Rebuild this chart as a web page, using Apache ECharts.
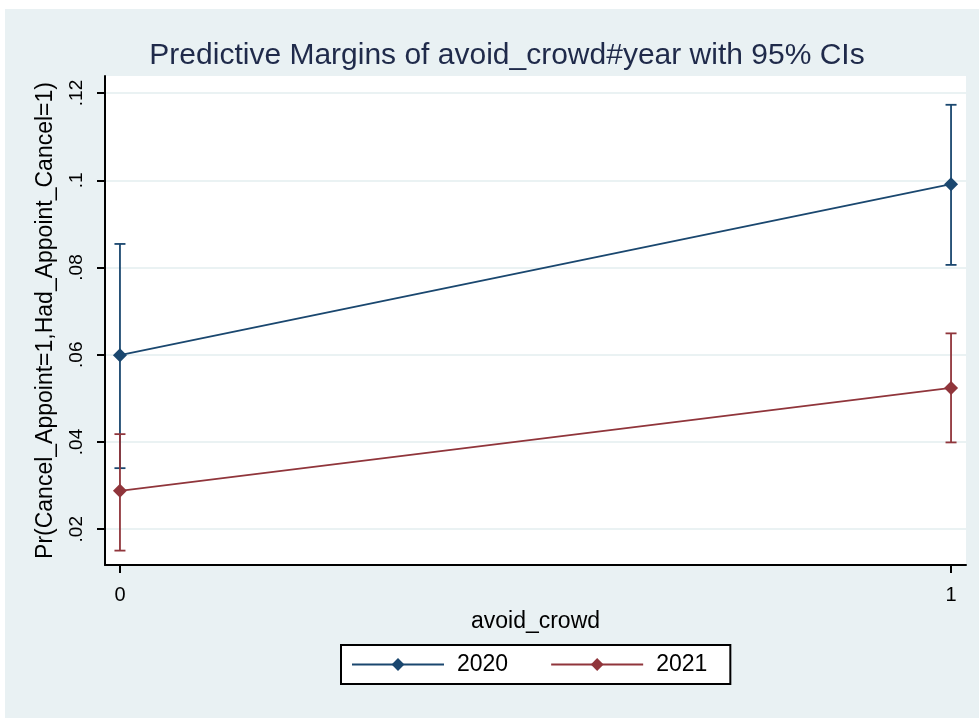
<!DOCTYPE html>
<html>
<head>
<meta charset="utf-8">
<script src="https://cdn.jsdelivr.net/npm/echarts@6/dist/echarts.min.js"></script>
<style>
  html, body { margin: 0; padding: 0; background: #fff; }
  #chart { width: 979px; height: 718px; }
</style>
</head>
<body>
<div id="chart"></div>
<script>
// avoid_crowd categories on the x axis
var xVals = [0, 1];
var yearNames = ['2020', '2021'];

// predictive margins with 95% CIs
var margin2020 = [0.0599, 0.0991];
var lo2020 = [0.0340, 0.0806];
var hi2020 = [0.0854, 0.1173];

var margin2021 = [0.0288, 0.0524];
var lo2021 = [0.0151, 0.0399];
var hi2021 = [0.0418, 0.0649];

var yTicks = [0.02, 0.04, 0.06, 0.08, 0.1, 0.12];
var xTicks = [0, 1];

var colors = ['#1a476f', '#90353b'];

function pairs(xs, ys) {
    return xs.map(function (x, i) { return [x, ys[i]]; });
}
function ciData(xs, lo, hi) {
    return xs.map(function (x, i) { return [x, lo[i], hi[i]]; });
}

// vertical CI bar with caps
function ciRender(color) {
    return function (params, api) {
        var x = api.value(0);
        var pLo = api.coord([x, api.value(1)]);
        var pHi = api.coord([x, api.value(2)]);
        var half = 5.5;
        var style = { stroke: color, lineWidth: 1.8 };
        return {
            type: 'group',
            children: [
                { type: 'line', shape: { x1: pLo[0], y1: pLo[1], x2: pHi[0], y2: pHi[1] }, style: style },
                { type: 'line', shape: { x1: pLo[0] - half, y1: pLo[1], x2: pLo[0] + half, y2: pLo[1] }, style: style },
                { type: 'line', shape: { x1: pHi[0] - half, y1: pHi[1], x2: pHi[0] + half, y2: pHi[1] }, style: style }
            ]
        };
    };
}

function tickFmt(v) {
    return String(+v.toFixed(2)).replace(/^0\./, '.');
}

var chartDom = document.getElementById('chart');
var myChart = echarts.init(chartDom);
var option;

option = {
    animation: false,
    backgroundColor: '#ffffff',
    textStyle: { fontFamily: 'Liberation Sans, Arial, sans-serif' },
    graphic: [{
        type: 'rect',
        z: -10,
        silent: true,
        shape: { x: 5, y: 9, width: 979, height: 718 },
        style: { fill: '#e9f1f3' }
    }],
    title: {
        text: 'Predictive Margins of avoid_crowd#year with 95% CIs',
        left: 502,
        top: 36,
        textAlign: 'center',
        textStyle: { fontSize: 30, fontWeight: 'normal', color: '#1f2a4a', fontFamily: 'Liberation Sans, Arial, sans-serif' }
    },
    legend: {
        data: yearNames,
        left: 341,
        top: 645,
        orient: 'horizontal',
        backgroundColor: '#ffffff',
        borderColor: '#000000',
        borderWidth: 2,
        borderRadius: 0,
        padding: [8, 23, 8, 10],
        itemWidth: 92,
        itemHeight: 16,
        itemGap: 42,
        lineStyle: { width: 2 },
        textStyle: { fontSize: 23, color: '#000', padding: [0, 0, 0, 8] }
    },
    grid: {
        left: 105,
        right: 13,
        top: 76,
        bottom: 153,
        show: true,
        backgroundColor: '#ffffff',
        borderWidth: 0
    },
    xAxis: {
        type: 'value',
        min: -0.018,
        max: 1.018,
        name: 'avoid_crowd',
        nameLocation: 'middle',
        nameGap: 40,
        nameTextStyle: { fontSize: 23, color: '#000' },
        axisLine: { show: true, onZero: false, lineStyle: { color: '#000', width: 2 } },
        axisTick: { show: true, length: 8, customValues: xTicks, lineStyle: { color: '#000', width: 2 } },
        axisLabel: { customValues: xTicks, margin: 20, fontSize: 20, color: '#000', formatter: function (v) { return String(v); } },
        splitLine: { show: false }
    },
    yAxis: {
        type: 'value',
        min: 0.0118,
        max: 0.1239,
        name: 'Pr(Cancel_Appoint=1,Had_Appoint_Cancel=1)',
        nameLocation: 'middle',
        nameGap: 48,
        nameTextStyle: { fontSize: 23, color: '#000' },
        axisLine: { show: true, onZero: false, lineStyle: { color: '#000', width: 2 } },
        axisTick: { show: true, length: 8, customValues: yTicks, lineStyle: { color: '#000', width: 2 } },
        axisLabel: { customValues: yTicks, rotate: 90, margin: 19, fontSize: 19, color: '#000', formatter: tickFmt },
        splitLine: { show: true, lineStyle: { color: '#eaf2f3', width: 2 } }
    },
    series: [
        {
            name: 'ci2020',
            type: 'custom',
            renderItem: ciRender(colors[0]),
            data: ciData(xVals, lo2020, hi2020),
            encode: { x: 0, y: [1, 2] },
            z: 2
        },
        {
            name: 'ci2021',
            type: 'custom',
            renderItem: ciRender(colors[1]),
            data: ciData(xVals, lo2021, hi2021),
            encode: { x: 0, y: [1, 2] },
            z: 2
        },
        {
            name: yearNames[0],
            type: 'line',
            data: pairs(xVals, margin2020),
            symbol: 'diamond',
            symbolSize: 14,
            showAllSymbol: true,
            lineStyle: { color: colors[0], width: 1.8 },
            itemStyle: { color: colors[0] },
            z: 3
        },
        {
            name: yearNames[1],
            type: 'line',
            data: pairs(xVals, margin2021),
            symbol: 'diamond',
            symbolSize: 14,
            showAllSymbol: true,
            lineStyle: { color: colors[1], width: 1.8 },
            itemStyle: { color: colors[1] },
            z: 3
        }
    ]
};

option && myChart.setOption(option);
</script>
</body>
</html>
